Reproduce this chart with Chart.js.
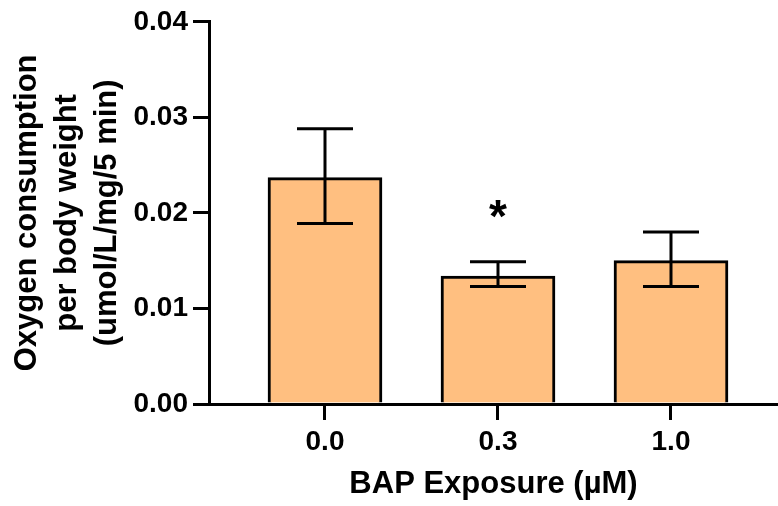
<!DOCTYPE html>
<html>
<head>
<meta charset="utf-8">
<script src="https://cdn.jsdelivr.net/npm/chart.js@4"></script>
<style>
  html, body { margin: 0; padding: 0; background: #fff; }
  #wrap { width: 778px; height: 506px; }
</style>
</head>
<body>
<div id="wrap"><canvas id="c" width="778" height="506"></canvas></div>
<script>
// ---- data ----
const categories = ['0.0', '0.3', '1.0'];
const means      = [0.0237, 0.0134, 0.0150];
const errHigh    = [0.0288, 0.0149, 0.0180];
const errLow     = [0.0189, 0.0123, 0.0123];
const significance = ['', '*', ''];
const yTicks = [0, 0.01, 0.02, 0.03, 0.04];

const FONT = "'Liberation Sans', Arial, sans-serif";

const errorBarPlugin = {
  id: 'errorBars',
  afterDatasetsDraw(chart) {
    const ctx = chart.ctx;
    const xs = chart.scales.x, ys = chart.scales.y;
    ctx.save();
    ctx.strokeStyle = '#000';
    ctx.lineWidth = 3;
    ctx.lineCap = 'butt';
    const cap = 28;
    means.forEach((m, i) => {
      const x = xs.getPixelForValue(i);
      const yH = ys.getPixelForValue(errHigh[i]);
      const yL = ys.getPixelForValue(errLow[i]);
      ctx.beginPath();
      ctx.moveTo(x, yH); ctx.lineTo(x, yL);
      ctx.moveTo(x - cap, yH); ctx.lineTo(x + cap, yH);
      ctx.moveTo(x - cap, yL); ctx.lineTo(x + cap, yL);
      ctx.stroke();
      if (significance[i]) {
        ctx.fillStyle = '#000';
        ctx.font = 'bold 46px ' + FONT;
        ctx.textAlign = 'center';
        ctx.textBaseline = 'alphabetic';
        const mt = ctx.measureText(significance[i]);
        const a = mt.actualBoundingBoxAscent, d = mt.actualBoundingBoxDescent;
        const cy = yH - 53;
        ctx.fillText(significance[i], x, cy + (a - d) / 2);
      }
    });
    ctx.restore();
  }
};

new Chart(document.getElementById('c'), {
  type: 'bar',
  data: {
    datasets: [{
      data: means.map((v, i) => ({ x: i, y: v })),
      backgroundColor: 'rgb(255,191,128)',
      borderColor: '#000',
      borderWidth: 3,
      borderSkipped: 'start',
      barThickness: 114
    }]
  },
  options: {
    responsive: false,
    animation: false,
    devicePixelRatio: 1,
    layout: { padding: { top: 20, right: 0, bottom: 0, left: 0 } },
    plugins: { legend: { display: false }, tooltip: { enabled: false } },
    scales: {
      x: {
        type: 'linear',
        offset: false,
        min: -0.6705,
        max: 2.6185,
        afterBuildTicks(scale) { scale.ticks = categories.map((c, i) => ({ value: i })); },
        afterFit(scale) { scale.height = 102; },
        ticks: {
          callback: (v) => categories[v],
          color: '#000',
          font: { family: FONT, size: 28, weight: 'bold' },
          padding: 5,
          maxRotation: 0,
          autoSkip: false
        },
        grid: { offset: false, drawOnChartArea: false, drawTicks: true, tickLength: 16, color: '#000', lineWidth: 3 },
        border: { display: true, color: '#000', width: 3, z: 1 },
        title: {
          display: true,
          text: 'BAP Exposure (µM)',
          color: '#000',
          font: { family: FONT, size: 31, weight: 'bold', lineHeight: 1.2 },
          padding: { top: 0, bottom: 3 }
        }
      },
      y: {
        min: 0,
        max: 0.04,
        afterBuildTicks(scale) { scale.ticks = yTicks.map(v => ({ value: v })); },
        afterFit(scale) { scale.width = 209; },
        ticks: {
          callback: (v) => v.toFixed(2),
          color: '#000',
          font: { family: FONT, size: 28, weight: 'bold' },
          padding: 5
        },
        grid: { drawOnChartArea: false, drawTicks: true, tickLength: 16, color: '#000', lineWidth: 3 },
        border: { display: true, color: '#000', width: 3, z: 1 },
        title: {
          display: true,
          text: ['Oxygen consumption', 'per body weight', '(umol/L/mg/5 min)'],
          color: '#000',
          font: { family: FONT, size: 31, weight: 'bold', lineHeight: 1.29 },
          padding: { top: 7, bottom: 0 }
        }
      }
    }
  },
  plugins: [errorBarPlugin]
});
</script>
</body>
</html>
